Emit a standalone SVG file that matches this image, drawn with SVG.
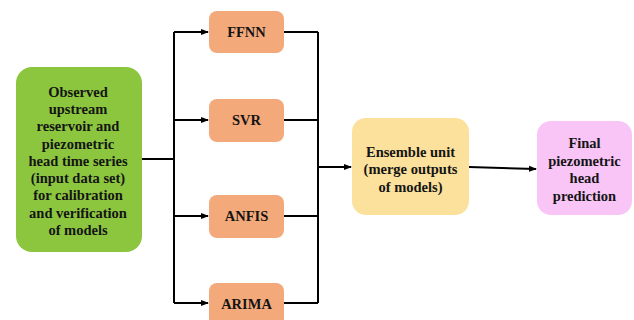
<svg xmlns="http://www.w3.org/2000/svg" width="634" height="320" viewBox="0 0 634 320">
<style>
text{font-family:"Liberation Serif","Times New Roman",serif;font-weight:bold;font-size:14.5px;fill:#141414;text-anchor:middle}
.ln{stroke:#000;stroke-width:2;fill:none}
.m{fill:#f4a97b}
</style>
<defs>
<marker id="ah" markerWidth="8" markerHeight="8" refX="7" refY="4" orient="auto" markerUnits="userSpaceOnUse">
<path d="M0,1 L8,4 L0,7 z" fill="#000"/>
</marker>
</defs>
<rect width="634" height="320" fill="#fff"/>
<g id="connectors">
<path class="ln" d="M142,159 H174"/>
<path class="ln" d="M174,32 V303"/>
<path class="ln" d="M174,32 H208" marker-end="url(#ah)"/>
<path class="ln" d="M174,120 H208" marker-end="url(#ah)"/>
<path class="ln" d="M174,216 H208" marker-end="url(#ah)"/>
<path class="ln" d="M174,303 H208" marker-end="url(#ah)"/>
<path class="ln" d="M284,32 H318 M284,120 H318 M284,216 H318 M284,303 H318"/>
<path class="ln" d="M318,32 V303"/>
<path class="ln" d="M318,167 H351" marker-end="url(#ah)"/>
<path class="ln" d="M469,167 L536,169" marker-end="url(#ah)"/>
</g>
<g id="input">
<rect x="16" y="67" width="126" height="185" rx="16" fill="#8cc63f"/>
<text x="78" y="97">Observed</text>
<text x="78" y="114">upstream</text>
<text x="78" y="131">reservoir and</text>
<text x="78" y="149">piezometric</text>
<text x="78" y="166">head time series</text>
<text x="78" y="183">(input data set)</text>
<text x="78" y="200">for calibration</text>
<text x="78" y="218">and verification</text>
<text x="78" y="235">of models</text>
</g>
<g id="ffnn"><rect class="m" x="209" y="11" width="75" height="42" rx="8"/><text x="246.5" y="37">FFNN</text></g>
<g id="svr"><rect class="m" x="209" y="99" width="75" height="43" rx="8"/><text x="246.5" y="125">SVR</text></g>
<g id="anfis"><rect class="m" x="209" y="195" width="75" height="43" rx="8"/><text x="246.5" y="221">ANFIS</text></g>
<g id="arima"><rect class="m" x="209" y="283" width="75" height="45" rx="8"/><text x="246.5" y="309">ARIMA</text></g>
<g id="ensemble">
<rect x="352" y="118" width="117" height="97" rx="14" fill="#fbe19b"/>
<text x="410.5" y="157">Ensemble unit</text>
<text x="410.5" y="174">(merge outputs</text>
<text x="410.5" y="192">of models)</text>
</g>
<g id="final">
<rect x="537" y="121" width="95" height="94" rx="14" fill="#f9c5f7"/>
<text x="584.5" y="148">Final</text>
<text x="584.5" y="166">piezometric</text>
<text x="584.5" y="183">head</text>
<text x="584.5" y="201">prediction</text>
</g>
</svg>
